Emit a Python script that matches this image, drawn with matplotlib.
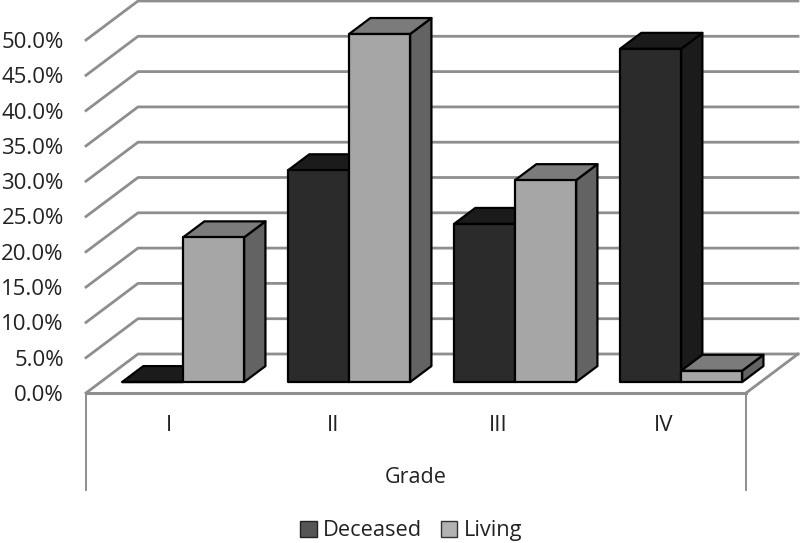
import matplotlib
matplotlib.use('Agg')
import matplotlib.pyplot as plt
from matplotlib.patches import Polygon, Patch

grades = ['I', 'II', 'III', 'IV']
deceased = [0.0, 30.0, 22.4, 47.2]
living = [20.5, 49.3, 28.6, 1.6]
y_ticks = [0, 5, 10, 15, 20, 25, 30, 35, 40, 45, 50]

# oblique depth of the fake 3d box, in data units
DEPTH_X = 52 / 165
DEPTH_Y = 39 / 7.06
BAR_FRONT = 0.28
BAR_BACK = 0.69
BAR_W = 0.37
GROUP_STEP = 166 / 165
GRID = '#8e8e8e'

plt.rcParams['font.family'] = ['Open Sans', 'DejaVu Sans']


def project(x, v, d):
    return (x + d * DEPTH_X, v + d * DEPTH_Y)


def draw_bar(ax, x0, value, front, top, side, z):
    x1 = x0 + BAR_W
    faces = [
        ([project(x1, 0, BAR_FRONT), project(x1, 0, BAR_BACK),
          project(x1, value, BAR_BACK), project(x1, value, BAR_FRONT)], side),
        ([project(x0, value, BAR_FRONT), project(x1, value, BAR_FRONT),
          project(x1, value, BAR_BACK), project(x0, value, BAR_BACK)], top),
        ([project(x0, 0, BAR_FRONT), project(x1, 0, BAR_FRONT),
          project(x1, value, BAR_FRONT), project(x0, value, BAR_FRONT)], front),
    ]
    for pts, color in faces:
        ax.add_patch(Polygon(pts, closed=True, facecolor=color, edgecolor='black',
                             linewidth=1.6, joinstyle='round', clip_on=False, zorder=z))


fig = plt.figure(figsize=(8, 5.43), dpi=100)
ax = fig.add_axes([86 / 800, 1 - 393 / 543, 660 / 800, 353 / 543])
ax.set_xlim(-0.5, 3.5)
ax.set_ylim(0, 50)
for s in ax.spines.values():
    s.set_visible(False)

# back wall + left wall grid
for t in y_ticks:
    xs = [-0.5, project(-0.5, t, 1)[0], project(3.5, t, 1)[0]]
    ys = [t, project(-0.5, t, 1)[1], project(3.5, t, 1)[1]]
    ax.plot(xs, ys, color=GRID, lw=2, clip_on=False, zorder=1)

# floor edges and the two drop lines round the category axis
ax.plot([-0.5, 3.5], [0, 0], color=GRID, lw=2.2, clip_on=False, zorder=1)
ax.plot([3.5, project(3.5, 0, 1)[0]], [0, project(3.5, 0, 1)[1]], color=GRID, lw=2, clip_on=False, zorder=1)
ax.plot([-0.5, -0.5], [0, -13.8], color=GRID, lw=1.4, clip_on=False, zorder=1)
ax.plot([3.5, 3.5], [0, -13.8], color=GRID, lw=1.4, clip_on=False, zorder=1)

for i in range(len(grades)):
    x = i * GROUP_STEP
    draw_bar(ax, x - BAR_W, deceased[i], '#2b2b2b', '#1b1b1b', '#1b1b1b', 3 + i)
    draw_bar(ax, x, living[i], '#a6a6a6', '#7b7b7b', '#636363', 3 + i)

ax.set_xticks(range(len(grades)))
ax.set_xticklabels(grades, fontsize=16, color='#222222')
ax.set_yticks(y_ticks)
ax.set_yticklabels([f'{t:.1f}%' for t in y_ticks], fontsize=16, color='#222222')
ax.tick_params(axis='both', length=0)
ax.tick_params(axis='x', pad=16)
ax.tick_params(axis='y', pad=16)
ax.set_xlabel('Grade', fontsize=15.5, color='#222222', labelpad=22)

handles = [Patch(facecolor='#555555', edgecolor='#222222', label='Deceased'),
           Patch(facecolor='#b2b2b2', edgecolor='#333333', label='Living')]
fig.legend(handles=handles, loc='lower center', bbox_to_anchor=(0.514, -0.005), ncol=2, frameon=False,
           fontsize=15.7, handlelength=0.75, handleheight=0.75, handletextpad=0.3, columnspacing=0.85,
           labelcolor='#222222', borderaxespad=0, borderpad=0.2)

fig.savefig('out.png', dpi=100)
